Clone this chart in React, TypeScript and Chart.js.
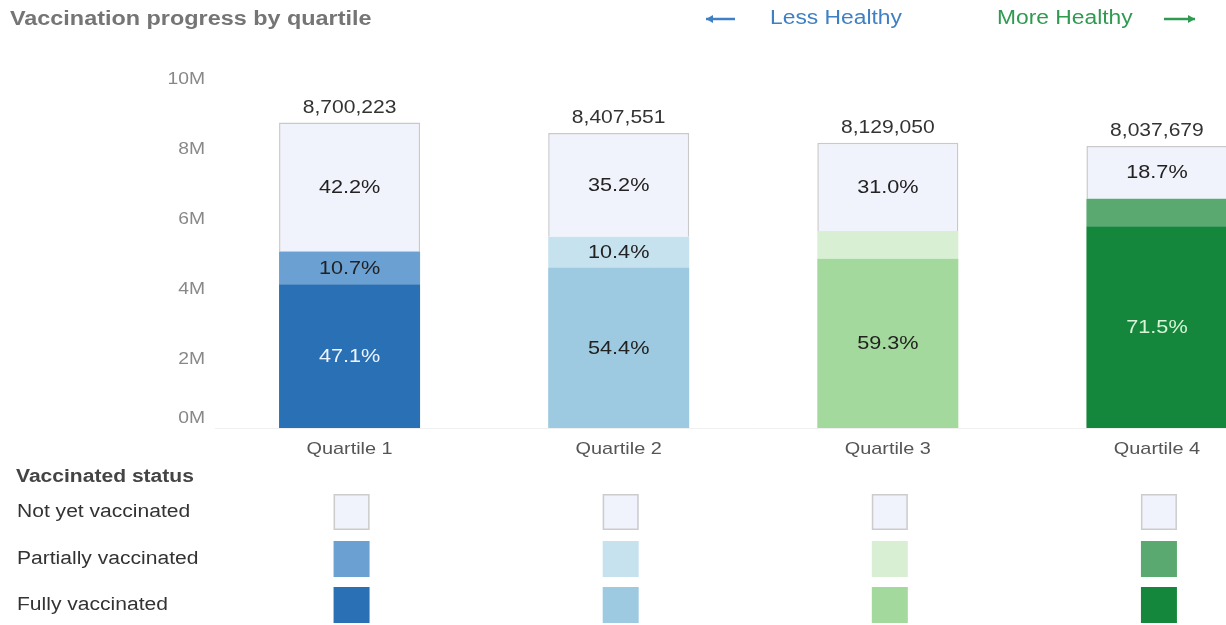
import React, { useEffect, useRef } from "react";
import { Chart, registerables } from "chart.js";

Chart.register(...registerables);

const categories = ["Quartile 1", "Quartile 2", "Quartile 3", "Quartile 4"];
const totals = [8700223, 8407551, 8129050, 8037679];
const fullyPct = [47.1, 54.4, 59.3, 71.5];
const partialPct = [10.7, 10.4, 9.7, 9.8];
const notYetPct = [42.2, 35.2, 31.0, 18.7];
const statusLabels = ["Not yet vaccinated", "Partially vaccinated", "Fully vaccinated"];
const yTickValues = [0, 2000000, 4000000, 6000000, 8000000, 10000000];

const fullyColors = ["#2a70b5", "#9ecae1", "#a3d99c", "#15873c"];
const partialColors = ["#6aa0d2", "#c7e2ef", "#d8efd3", "#5aa970"];
const notYetColors = ["#f0f3fb", "#f0f3fb", "#f0f3fb", "#f0f3fb"];
const fullyTextColors = ["#eef4ff", "#222222", "#222222", "#d6f5d6"];

const FONT = "'Liberation Sans', Arial, sans-serif";
const SX = 1.17;

const pctSeries = [fullyPct, partialPct, notYetPct];

function drawText(
  ctx: CanvasRenderingContext2D,
  text: string,
  x: number,
  y: number,
  font: string,
  color: string,
  align: CanvasTextAlign = "center"
) {
  ctx.save();
  ctx.translate(x, y);
  ctx.scale(SX, 1);
  ctx.font = font;
  ctx.fillStyle = color;
  ctx.textAlign = align;
  ctx.textBaseline = "middle";
  ctx.fillText(text, 0, 0);
  ctx.restore();
}

const labelsPlugin = {
  id: "segLabels",
  afterDatasetsDraw(chart: any) {
    const ctx = chart.ctx;
    chart.data.datasets.forEach((_ds: any, di: number) => {
      const meta = chart.getDatasetMeta(di);
      meta.data.forEach((el: any, i: number) => {
        const pct = pctSeries[di][i];
        if (pct < 10) return;
        const cy = (el.y + el.base) / 2 + 1;
        drawText(
          ctx,
          pct.toFixed(1) + "%",
          el.x,
          cy,
          `18.5px ${FONT}`,
          di === 0 ? fullyTextColors[i] : "#222222"
        );
      });
    });
    const topMeta = chart.getDatasetMeta(2);
    topMeta.data.forEach((el: any, i: number) => {
      drawText(ctx, totals[i].toLocaleString("en-US"), el.x, el.y - 15, `18px ${FONT}`, "#333333");
    });
  },
};

const decorPlugin = {
  id: "decor",
  afterDraw(chart: any) {
    const ctx = chart.ctx;
    const xs = chart.scales.x;
    const ys = chart.scales.y;
    const area = chart.chartArea;

    // axis tick labels (positions from the scales)
    ys.ticks.forEach((t: any) => {
      const py = Math.min(ys.getPixelForValue(t.value) + 2, area.bottom - 10);
      drawText(ctx, t.value / 1000000 + "M", 205, py, `16.5px ${FONT}`, "#888888", "right");
    });
    categories.forEach((c, i) => {
      drawText(ctx, c, xs.getPixelForValue(i), 449, `17px ${FONT}`, "#555555");
    });

    // title
    drawText(ctx, "Vaccination progress by quartile", 10, 19, `bold 20px ${FONT}`, "#757575", "left");

    // header arrows
    const blue = "#3f80c4";
    const green = "#2f9a50";
    drawText(ctx, "Less Healthy", 770, 19, `19.5px ${FONT}`, blue, "left");
    drawText(ctx, "More Healthy", 997, 19, `19.5px ${FONT}`, green, "left");
    const arrow = (x1: number, x2: number, y: number, color: string, dir: number) => {
      ctx.save();
      ctx.strokeStyle = color;
      ctx.fillStyle = color;
      ctx.lineWidth = 2.5;
      ctx.beginPath();
      ctx.moveTo(x1, y);
      ctx.lineTo(x2, y);
      ctx.stroke();
      const tip = dir < 0 ? x1 : x2;
      ctx.beginPath();
      ctx.moveTo(tip, y);
      ctx.lineTo(tip - dir * 7, y - 4);
      ctx.lineTo(tip - dir * 7, y + 4);
      ctx.closePath();
      ctx.fill();
      ctx.restore();
    };
    arrow(706, 735, 19, blue, -1);
    arrow(1164, 1195, 19, green, 1);

    // legend
    drawText(ctx, "Vaccinated status", 16, 477, `bold 18px ${FONT}`, "#444444", "left");
    const rowY = [512, 559, 605];
    statusLabels.forEach((lab, r) => {
      drawText(ctx, lab, 17, rowY[r], `18px ${FONT}`, "#333333", "left");
    });
    const colorRows = [notYetColors, partialColors, fullyColors];
    ctx.save();
    categories.forEach((_c, i) => {
      const cx = xs.getPixelForValue(i) + 2;
      colorRows.forEach((cols, r) => {
        const s = 36;
        ctx.fillStyle = cols[i];
        ctx.fillRect(cx - s / 2, rowY[r] - s / 2, s, s);
        if (r === 0) {
          ctx.strokeStyle = "#cccccc";
          ctx.lineWidth = 1.5;
          ctx.strokeRect(cx - s / 2 + 0.75, rowY[r] - s / 2 + 0.75, s - 1.5, s - 1.5);
        }
      });
    });
    ctx.restore();
  },
};

export default function App() {
  const ref = useRef<HTMLCanvasElement | null>(null);

  useEffect(() => {
    document.body.style.overflow = "hidden";
    const canvas = ref.current;
    if (!canvas) return;
    const chart = new Chart(canvas, {
      type: "bar",
      data: {
        labels: categories,
        datasets: [
          {
            label: statusLabels[2],
            data: totals.map((t, i) => (t * fullyPct[i]) / 100),
            backgroundColor: fullyColors,
            borderWidth: 0,
          },
          {
            label: statusLabels[1],
            data: totals.map((t, i) => (t * partialPct[i]) / 100),
            backgroundColor: partialColors,
            borderWidth: 0,
          },
          {
            label: statusLabels[0],
            data: totals.map((t, i) => (t * notYetPct[i]) / 100),
            backgroundColor: notYetColors,
            borderColor: "#c9c9c9",
            borderWidth: 1.5,
          },
        ],
      },
      options: {
        responsive: false,
        animation: false,
        events: [],
        layout: { padding: { top: 77, right: 8.5, left: 0, bottom: 0 } },
        datasets: { bar: { categoryPercentage: 1, barPercentage: 0.524 } } as any,
        plugins: {
          legend: { display: false },
          tooltip: { enabled: false },
          title: { display: false },
        },
        scales: {
          x: {
            stacked: true,
            grid: { display: false, drawTicks: false },
            border: { display: true, color: "#f0f0f0" },
            ticks: { font: { family: FONT, size: 16 }, color: "rgba(0,0,0,0)", padding: 12 },
            afterFit: (s: any) => {
              s.height = 197;
            },
          },
          y: {
            stacked: true,
            min: 0,
            max: 10000000,
            afterBuildTicks: (s: any) => {
              s.ticks = yTickValues.map((v) => ({ value: v }));
            },
            ticks: {
              callback: (v: any) => Number(v) / 1000000 + "M",
              font: { family: FONT, size: 15 },
              color: "rgba(0,0,0,0)",
              padding: 10,
            },
            grid: { display: false },
            border: { display: false },
            afterFit: (s: any) => {
              s.width = 215;
            },
          },
        },
      },
      plugins: [labelsPlugin, decorPlugin],
    });
    return () => chart.destroy();
  }, []);

  return (
    <div
      style={{
        position: "fixed",
        left: 0,
        top: 0,
        width: 1226,
        height: 625,
        overflow: "hidden",
        background: "#ffffff",
      }}
    >
      <canvas ref={ref} width={1300} height={625} style={{ display: "block", width: 1300, height: 625 }} />
    </div>
  );
}
